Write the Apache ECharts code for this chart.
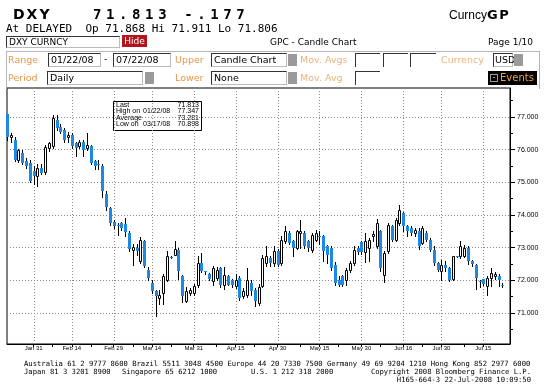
<!DOCTYPE html>
<html><head><meta charset="utf-8">
<script src="https://cdn.jsdelivr.net/npm/echarts@6/dist/echarts.min.js"></script>
<style>
html,body{margin:0;padding:0;background:#fff;}
body{width:546px;height:392px;overflow:hidden;position:relative;}
#chart{position:absolute;left:0;top:0;width:546px;height:392px;}
.a{position:absolute;white-space:pre;line-height:1;color:#000;}
.f{font-family:"DejaVu Sans",sans-serif;font-size:9px;}
.o{position:absolute;white-space:pre;line-height:1;font-family:"DejaVu Sans",sans-serif;font-size:9.5px;color:#e8974a;}
.ol{color:#ecb27c;}
.in{position:absolute;box-sizing:border-box;background:#fff;border-top:1px solid #333;border-left:1px solid #333;border-right:1px solid #bbb;border-bottom:1px solid #bbb;font-family:"DejaVu Sans",sans-serif;font-size:9.5px;line-height:12px;padding-left:2px;white-space:pre;color:#000;}
.in2{position:absolute;box-sizing:border-box;background:#fff;border-top:1px solid #333;border-left:1px solid #333;}
.sq{position:absolute;background:#9a9a9a;}
.ft{position:absolute;font-family:"DejaVu Sans Mono",monospace;font-size:7.2px;line-height:8px;white-space:pre;color:#000;}
</style></head><body>
<div id="chart"></div>

<div class="a" style="left:13px;top:6px;font:bold 14px 'DejaVu Sans';letter-spacing:2px">DXY</div>
<div class="a" style="left:93px;top:6px;font:bold 14px 'DejaVu Sans Mono';letter-spacing:4.6px">71.813 -.177</div>
<div class="a" style="left:449px;top:7px;font:12px 'Liberation Sans'">Curncy<span style="font:bold 13px 'DejaVu Sans';letter-spacing:1.5px">GP</span></div>
<div class="a" style="left:6px;top:22px;font:11px 'DejaVu Sans Mono'">At DELAYED  Op 71.868 Hi 71.911 Lo 71.806</div>

<div class="in" style="left:6px;top:36px;width:114px;height:12px;line-height:10px;font-size:9px">DXY CURNCY</div>
<div class="a" style="left:122px;top:35px;width:25px;height:12px;background:#b3141d;color:#fff;font:9px 'DejaVu Sans';line-height:12px;text-align:center">Hide</div>
<div class="a f" style="left:270px;top:38px">GPC - Candle Chart</div>
<div class="a f" style="left:488px;top:38px">Page 1/10</div>

<div style="position:absolute;left:6px;top:51px;width:534px;height:38px;border-top:1px solid #b5b5b5;border-left:1px solid #b5b5b5;border-right:1px solid #b5b5b5;box-sizing:border-box"></div>

<div class="o" style="left:8px;top:55px">Range</div>
<div class="in" style="left:48px;top:53px;width:53px;height:14px">01/22/08</div>
<div class="a f" style="left:104px;top:55px">-</div>
<div class="in" style="left:113px;top:53px;width:58px;height:14px">07/22/08</div>
<div class="o" style="left:175px;top:55px">Upper</div>
<div class="in" style="left:211px;top:53px;width:76px;height:14px">Candle Chart</div>
<div class="sq" style="left:288px;top:54px;width:9px;height:12px"></div>
<div class="o ol" style="left:300px;top:55px">Mov. Avgs</div>
<div class="in2" style="left:355px;top:53px;width:25px;height:14px"></div>
<div class="in2" style="left:383px;top:53px;width:25px;height:14px"></div>
<div class="in2" style="left:410px;top:53px;width:26px;height:14px"></div>
<div class="o ol" style="left:441px;top:55px">Currency</div>
<div class="in" style="left:493px;top:53px;width:20px;height:14px;padding-left:1px">USD</div>
<div class="sq" style="left:514px;top:54px;width:9px;height:12px"></div>

<div class="o" style="left:8px;top:73px">Period</div>
<div class="in" style="left:47px;top:71px;width:96px;height:14px">Daily</div>
<div class="sq" style="left:145px;top:72px;width:9px;height:12px"></div>
<div class="o" style="left:175px;top:73px">Lower</div>
<div class="in" style="left:211px;top:71px;width:76px;height:14px">None</div>
<div class="sq" style="left:288px;top:72px;width:9px;height:12px"></div>
<div class="o ol" style="left:300px;top:73px">Mov. Avg</div>
<div class="in2" style="left:355px;top:71px;width:25px;height:14px"></div>
<div style="position:absolute;left:488px;top:71px;width:49px;height:14px;background:#000"></div>
<div style="position:absolute;left:490px;top:74px;width:8px;height:8px;box-sizing:border-box;border:1px solid #999;background:#000;color:#ccc;font:8px 'DejaVu Sans';line-height:6px;text-align:center">-</div>
<div class="o" style="left:500px;top:73px;font-size:10px;color:#f0a040">Events</div>

<div class="ft" style="left:24px;top:360px">Australia 61 2 9777 8600 Brazil 5511 3048 4500 Europe 44 20 7330 7500 Germany 49 69 9204 1210 Hong Kong 852 2977 6000</div>
<div class="ft" style="left:24px;top:368px">Japan 81 3 3201 8900</div>
<div class="ft" style="left:122px;top:368px">Singapore 65 6212 1000</div>
<div class="ft" style="left:251px;top:368px">U.S. 1 212 318 2000</div>
<div class="ft" style="right:15px;top:368px">Copyright 2008 Bloomberg Finance L.P.</div>
<div class="ft" style="right:15px;top:376px">H165-664-3 22-Jul-2008 10:09:50</div>

<script>
// ---- data ----
const dates = [
'01/22','01/23','01/24','01/25','01/28','01/29','01/30','01/31',
'02/01','02/04','02/05','02/06','02/07','02/08','02/11','02/12','02/13','02/14','02/15','02/18','02/19','02/20','02/21','02/22','02/25','02/26','02/27','02/28','02/29',
'03/03','03/04','03/05','03/06','03/07','03/10','03/11','03/12','03/13','03/14','03/17','03/18','03/19','03/20','03/21','03/24','03/25','03/26','03/27','03/28','03/31',
'04/01','04/02','04/03','04/04','04/07','04/08','04/09','04/10','04/11','04/14','04/15','04/16','04/17','04/18','04/21','04/22','04/23','04/24','04/25','04/28','04/29','04/30',
'05/01','05/02','05/05','05/06','05/07','05/08','05/09','05/12','05/13','05/14','05/15','05/16','05/19','05/20','05/21','05/22','05/23','05/26','05/27','05/28','05/29','05/30',
'06/02','06/03','06/04','06/05','06/06','06/09','06/10','06/11','06/12','06/13','06/16','06/17','06/18','06/19','06/20','06/23','06/24','06/25','06/26','06/27','06/30',
'07/01','07/02','07/03','07/04','07/07','07/08','07/09','07/10','07/11','07/14','07/15','07/16','07/17','07/18','07/21','07/22'];
const spareSlots = ['', ' '];

const opens = [
77.08,76.38,76.30,75.68,75.90,75.65,75.60,75.35,75.20,75.45,
75.33,76.05,76.12,76.90,76.70,76.60,76.40,76.45,76.20,76.10,
76.25,76.05,76.10,75.65,75.55,75.50,74.65,74.20,73.80,73.70,
73.75,73.72,73.45,72.93,73.00,72.58,73.19,72.33,71.92,71.66,
71.46,71.61,72.02,72.72,72.79,72.94,72.12,71.36,71.61,71.61,
71.87,72.53,72.28,72.20,71.97,72.07,72.38,71.87,72.12,72.02,
71.82,72.07,71.51,71.56,71.92,71.71,71.30,71.82,72.53,72.68,
72.53,72.89,72.53,73.19,73.45,73.19,72.99,73.45,73.45,73.19,
72.94,73.24,73.35,73.35,73.04,72.99,72.48,72.02,72.12,72.02,
72.33,72.53,72.99,73.18,72.87,73.00,73.36,73.04,73.50,72.15,
72.89,73.65,73.24,73.76,74.06,73.65,73.60,73.45,73.50,73.14,
73.45,73.24,72.94,72.53,72.28,72.48,72.38,72.04,72.73,72.73,
72.76,72.99,72.60,72.48,71.97,72.04,71.82,72.07,72.12,72.14,
71.868];
const closes = [
76.38,76.44,75.70,75.98,75.60,75.50,75.05,75.20,75.45,75.30,
76.09,76.20,76.96,76.65,76.55,76.30,76.45,76.10,76.05,76.25,
76.00,76.15,75.60,75.50,75.52,74.75,74.25,73.75,73.65,73.68,
73.60,73.47,72.95,73.03,72.90,73.24,72.43,72.07,71.66,71.51,
71.56,72.12,72.73,72.70,72.97,72.28,71.51,71.66,71.71,71.82,
72.53,72.28,72.25,72.05,72.38,72.33,71.87,72.17,71.87,71.87,
72.02,71.46,71.66,72.02,71.66,71.36,71.80,72.68,72.76,72.53,
72.91,72.48,73.24,73.50,73.14,72.99,73.50,73.50,73.04,72.99,
73.40,73.45,73.32,72.89,72.78,72.38,71.92,71.87,71.87,72.33,
72.53,72.94,72.86,72.87,73.20,73.25,73.42,73.76,72.38,72.85,
73.70,73.24,73.86,74.16,73.65,73.50,73.45,73.55,73.04,73.60,
73.24,72.94,72.53,72.33,72.48,72.38,72.02,72.73,72.72,73.04,
72.99,72.58,72.50,72.07,71.95,71.90,72.07,72.22,72.20,72.00,
71.813];
const lows = [
76.30,76.25,75.65,75.62,75.55,75.45,75.00,74.95,74.90,75.25,
75.25,75.95,76.05,76.60,76.50,76.25,76.25,76.05,75.80,76.05,
75.80,76.00,75.55,75.40,75.40,74.55,74.15,73.70,73.60,73.40,
73.55,73.35,72.90,72.48,72.78,72.53,72.40,72.00,71.60,70.898,
71.26,71.26,71.98,72.68,72.78,72.05,71.35,71.33,71.55,71.55,
71.80,72.25,72.20,72.00,71.87,72.00,71.80,71.73,71.85,71.80,
71.78,71.40,71.45,71.50,71.55,71.20,71.25,71.80,72.43,72.45,
72.43,72.43,72.48,73.14,73.10,72.73,72.95,72.99,72.99,72.90,
72.88,73.20,73.10,72.60,72.53,72.33,71.85,71.84,71.84,71.87,
72.25,72.48,72.80,72.80,72.55,72.60,73.20,72.99,72.30,71.95,
72.85,73.20,73.20,73.70,73.50,73.35,73.40,73.35,72.95,73.10,
73.20,72.90,72.48,72.30,72.00,72.30,71.98,72.00,72.70,72.68,
72.70,72.50,72.45,71.74,71.80,71.85,71.55,71.82,72.05,71.82,
71.806];
const highs = [
77.10,76.50,76.40,76.02,75.98,75.75,75.67,75.50,75.55,75.55,
76.15,76.25,77.05,77.05,76.80,76.65,76.55,76.50,76.25,76.30,
76.30,76.50,76.15,75.70,75.70,75.55,74.75,74.25,73.85,73.75,
73.80,73.90,73.50,73.12,73.10,73.34,73.25,72.40,72.00,71.70,
71.71,72.20,72.90,72.75,73.20,72.98,72.15,71.80,71.75,71.90,
72.73,72.84,72.30,72.22,72.45,72.40,72.40,72.40,72.15,72.05,
72.20,72.12,71.75,72.38,72.00,71.75,71.90,72.78,73.04,72.76,
73.04,72.95,73.35,73.65,73.50,73.25,73.55,73.86,73.50,73.25,
73.45,73.55,73.50,73.40,73.09,73.04,72.55,72.12,72.15,72.38,
72.60,73.04,73.05,73.20,73.45,73.30,73.50,73.88,73.55,72.90,
73.75,73.70,73.90,74.30,74.10,73.70,73.65,73.60,73.60,73.65,
73.50,73.30,73.04,72.56,72.63,72.60,72.40,72.75,72.76,73.20,
73.09,73.04,72.62,72.50,72.02,72.05,72.12,72.38,72.25,72.20,
71.911];

const labelDates = ['01/31','02/14','02/29','03/14','03/31','04/15','04/30','05/15','05/30','06/16','06/30','07/15'];
const tickLabels = ['Jan 31','Feb 14','Feb 29','Mar 14','Mar 31','Apr 15','Apr 30','May 15','May 30','Jun 16','Jun 30','Jul 15'];
const midTickDates = ['02/07','02/21','03/07','03/21','04/08','04/22','05/08','05/22','06/06','06/23','07/08'];
const yLabelValues = [71, 72, 73, 74, 75, 76, 77];
const yMinorValues = [70.5, 71.5, 72.5, 73.5, 74.5, 75.5, 76.5, 77.5];
const lastPrice = 71.813;
const statLabels = ['Last', 'High on 01/22/08', 'Average', 'Low on 03/17/08'];
const statValues = ['71.813', '77.347', '73.281', '70.898'];

// ---- chart ----
const cats = dates.concat(spareSlots);
const candles = dates.map((d, i) => [i, opens[i], closes[i], lows[i], highs[i]]);
const labelIdx = labelDates.map(d => dates.indexOf(d));
const tickIdx = labelIdx.concat(midTickDates.map(d => dates.indexOf(d)));

function renderCandle(params, api) {
  const i = api.value(0), o = api.value(1), c = api.value(2), l = api.value(3), h = api.value(4);
  const po = api.coord([i, o]);
  const x = Math.round(po[0]);
  const yo = Math.round(po[1]), yc = Math.round(api.coord([i, c])[1]);
  const yl = Math.round(api.coord([i, l])[1]), yh = Math.round(api.coord([i, h])[1]);
  const top = Math.min(yo, yc), bot = Math.max(yo, yc);
  const kids = [{type: 'line', shape: {x1: x + 0.5, y1: yh, x2: x + 0.5, y2: yl + 1}, style: {stroke: '#000', lineWidth: 1}}];
  if (c > o) {
    kids.push({type: 'rect', shape: {x: x - 0.5, y: top + 0.5, width: 2, height: Math.max(bot - top, 1)}, style: {fill: '#fff', stroke: '#000', lineWidth: 1}});
  } else {
    kids.push({type: 'rect', shape: {x: x - 1, y: top, width: 3, height: Math.max(bot - top, 1)}, style: {fill: '#1e88e5'}});
  }
  return {type: 'group', children: kids};
}

function renderVGrid(params, api) {
  const cs = params.coordSys;
  const x = Math.round(api.coord([api.value(0), 74])[0]) + 0.5;
  return {type: 'line', shape: {x1: x, y1: cs.y, x2: x, y2: cs.y + cs.height},
    style: {stroke: '#8c8c8c', lineWidth: 1, lineDash: [1, 2]}};
}

const statText = [];
statLabels.forEach((s, k) => {
  const parts = s.split(' ');
  const yy = 4 + k * 6.3;
  statText.push({type: 'text', x: 3, y: yy, style: {text: parts.slice(0, 2).join(' '), fontSize: 7, fontFamily: 'Liberation Sans', fill: '#000', verticalAlign: 'middle'}});
  if (parts.length > 2) {
    statText.push({type: 'text', x: 30, y: yy, style: {text: parts[2], fontSize: 7, fontFamily: 'Liberation Sans', fill: '#000', verticalAlign: 'middle'}});
  }
  statText.push({type: 'text', x: 86, y: yy, style: {text: statValues[k], fontSize: 7, fontFamily: 'Liberation Sans', fill: '#000', align: 'right', verticalAlign: 'middle'}});
});

const gridLineStyle = {color: '#8c8c8c', type: [1, 2], width: 1};

const chart = echarts.init(document.getElementById('chart'));
chart.setOption({
  animation: false,
  backgroundColor: 'transparent',
  textStyle: {fontFamily: 'Liberation Sans'},
  grid: {left: 7, right: 36, top: 88, bottom: 48, show: true, borderColor: '#000', borderWidth: 1, backgroundColor: '#fff'},
  xAxis: {
    type: 'category', data: cats, boundaryGap: false,
    axisLine: {show: true, lineStyle: {color: '#000', width: 1}},
    axisTick: {show: true, length: 3, interval: (i) => tickIdx.includes(i), lineStyle: {color: '#000'}},
    axisLabel: {show: true, interval: (i) => labelIdx.includes(i), formatter: (v) => tickLabels[labelDates.indexOf(v)] || '', fontSize: 6, color: '#000', margin: 1.5},
    splitLine: {show: false}
  },
  yAxis: [{
    type: 'value', position: 'right', min: 70.05, max: 77.89, splitNumber: 8, scale: true,
    axisLine: {show: true, lineStyle: {color: '#000'}},
    axisTick: {show: true, length: 5, customValues: yLabelValues, lineStyle: {color: '#000'}},
    axisLabel: {show: true, customValues: yLabelValues, formatter: (v) => Math.abs(v - Math.round(v)) < 1e-6 ? v.toFixed(3) : '', fontSize: 7, color: '#000', margin: 7},
    splitLine: {show: true, lineStyle: gridLineStyle}
  }, {
    type: 'value', position: 'right', min: 70.05, max: 77.89, splitNumber: 8, scale: true,
    axisLine: {show: false},
    axisTick: {show: true, length: 3, customValues: yMinorValues, lineStyle: {color: '#000'}},
    axisLabel: {show: false},
    splitLine: {show: false}
  }],
  series: [{
    type: 'custom', renderItem: renderVGrid, data: labelIdx.map(i => [i]), encode: {x: 0}, clip: false, z: 1, silent: true
  }, {
    type: 'custom', renderItem: renderCandle, data: candles, encode: {x: 0, y: [1, 2, 3, 4]}, clip: false, z: 3,
    markLine: {
      silent: true, symbol: ['none', 'none'], animation: false,
      lineStyle: {opacity: 0},
      data: [{yAxis: lastPrice}],
      label: {show: true, position: 'end', distance: 1, formatter: '{a|◀}{b|' + lastPrice.toFixed(3) + '}',
        rich: {a: {color: '#000', fontSize: 7, fontFamily: 'DejaVu Sans'}, b: {backgroundColor: '#000', color: '#fff', fontSize: 7, fontFamily: 'Liberation Sans', padding: [2, 2, 1, 2]}}}
    }
  }],
  graphic: [{
    type: 'group', left: 113, top: 101, z: 10,
    children: [{type: 'rect', shape: {x: 0.5, y: 0.5, width: 88, height: 29}, style: {fill: '#fff', stroke: '#000', lineWidth: 1}}].concat(statText)
  }]
});
</script>
</body></html>
